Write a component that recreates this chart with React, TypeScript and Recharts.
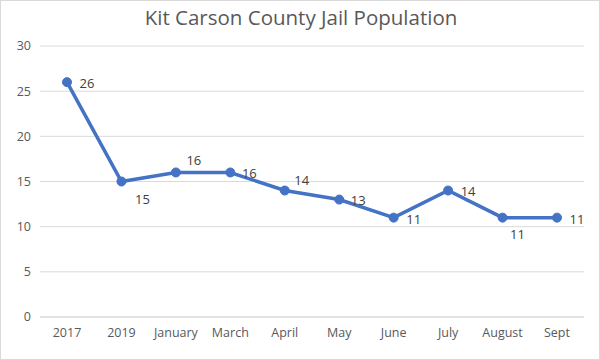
import React from "react";
import { LineChart, Line, XAxis, YAxis, CartesianGrid, LabelList } from "recharts";

const categories = ["2017", "2019", "January", "March", "April", "May", "June", "July", "August", "Sept"];
const population = [26, 15, 16, 16, 14, 13, 11, 14, 11, 11];
const yTicks = [0, 5, 10, 15, 20, 25, 30];

// label offsets (dx, dy) relative to each point, as placed in the original
const labelOffsets: [number, number][] = [
  [20, 1], [21, 17], [18, -12], [19, 1], [17, -11], [19, 0], [20, 1], [20, 0], [15, 16], [20, 1],
];

const data = categories.map((c, i) => ({ name: c, value: population[i] }));

const FONT = "'Open Sans', 'Noto Sans', sans-serif";

const renderLabel = (props: any) => {
  const { x, y, value, index } = props;
  const [dx, dy] = labelOffsets[index] || [0, 0];
  return (
    <text
      x={x + dx}
      y={y + dy}
      textAnchor="middle"
      dominantBaseline="central"
      fill="#404040"
      fontSize={13}
      fontFamily={FONT}
    >
      {value}
    </text>
  );
};

export default function App() {
  return (
    <div
      style={{
        position: "absolute",
        left: 0,
        top: 0,
        width: 600,
        height: 360,
        background: "#fff",
        boxSizing: "border-box",
        border: "1px solid #d9d9d9",
      }}
    >
      <div
        style={{
          position: "absolute",
          top: 2,
          left: 0,
          width: 600,
          textAlign: "center",
          fontFamily: FONT,
          fontSize: 20.5,
          color: "#595959",
        }}
      >
        Kit Carson County Jail Population
      </div>
      <div style={{ position: "absolute", left: -1, top: -1 }}>
        <LineChart
          width={600}
          height={360}
          data={data}
          margin={{ top: 46, right: 16, left: 0, bottom: 13 }}
        >
          <CartesianGrid vertical={false} stroke="#d9d9d9" strokeWidth={1} />
          <XAxis
            dataKey="name"
            tickLine={false}
            tickSize={0}
            tickMargin={11}
            axisLine={{ stroke: "#d9d9d9" }}
            height={30}
            interval={0}
            padding={{ left: 27, right: 27 }}
            tick={{ fill: "#595959", fontSize: 12.5, fontFamily: FONT }}
          />
          <YAxis
            domain={[0, 30]}
            ticks={yTicks}
            width={40}
            tickLine={false}
            axisLine={false}
            tickSize={0}
            tickMargin={9}
            tick={{ fill: "#595959", fontSize: 12.5, fontFamily: FONT }}
          />
          <Line
            type="linear"
            dataKey="value"
            stroke="#4472C4"
            strokeWidth={3.5}
            dot={{ r: 4.5, fill: "#4472C4", stroke: "#4472C4", strokeWidth: 1 }}
            isAnimationActive={false}
          >
            <LabelList dataKey="value" content={renderLabel} />
          </Line>
        </LineChart>
      </div>
    </div>
  );
}
